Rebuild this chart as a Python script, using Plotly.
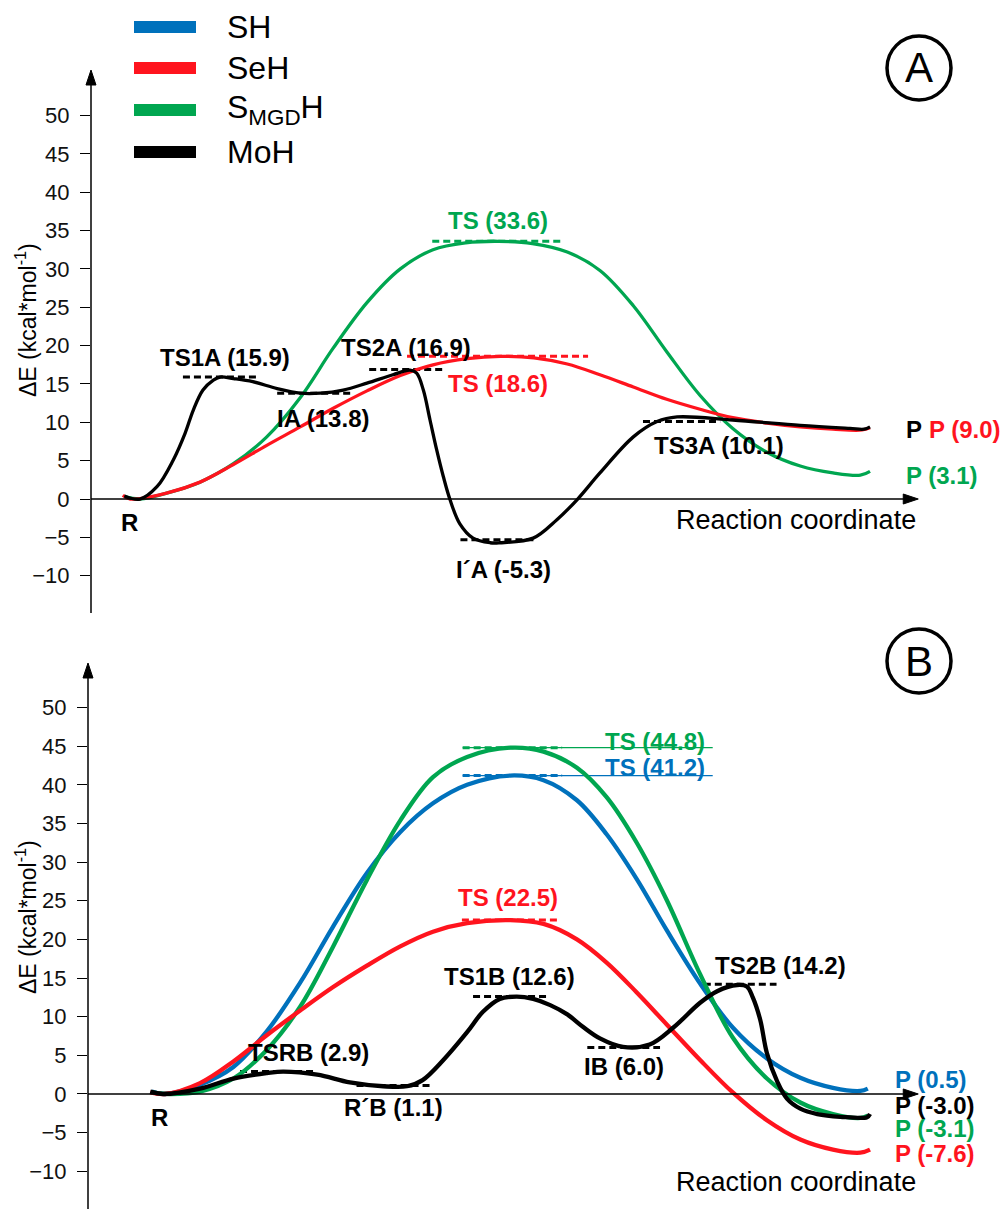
import plotly.graph_objects as go

W, H = 1003, 1209

# ---------------- data ----------------
series_keys = ["SH", "SeH", "SMGD", "MoH"]
series_names = ["SH", "SeH", "S<sub>MGD</sub>H", "MoH"]
series_colors = ["#0071BC", "#FF141E", "#00A650", "#000000"]

# Panel A curves: reaction coordinate / energy (kcal/mol)
a_smgd_x = [-0.04, 0.16, 0.57, 0.97, 1.42, 1.87, 2.32, 2.76, 3.22, 3.67, 4.11, 4.55, 4.99, 5.45, 5.92, 6.36, 6.81, 7.26, 7.71, 8.15, 8.61, 9.06, 9.50, 9.87, 10.0]
a_smgd_e = [0.3, 0.0, 0.9, 2.2, 4.6, 8.1, 13.2, 19.6, 25.6, 30.0, 32.5, 33.4, 33.6, 33.3, 32.2, 29.8, 25.2, 19.2, 13.5, 9.2, 6.1, 4.3, 3.4, 3.1, 3.6]

a_seh_x = [-0.07, 0.03, 0.53, 0.97, 1.42, 1.87, 2.32, 2.76, 3.22, 3.67, 4.11, 4.57, 5.02, 5.47, 5.92, 6.36, 6.81, 7.26, 7.71, 8.15, 8.61, 9.06, 9.50, 9.89, 10.0]
a_seh_e = [0.5, 0.0, 0.8, 2.2, 4.5, 7.0, 9.4, 11.8, 14.1, 16.1, 17.5, 18.3, 18.6, 18.4, 17.6, 16.2, 14.6, 13.0, 11.7, 10.6, 9.9, 9.4, 9.1, 9.0, 9.3]

a_moh_x = [-0.05, 0.16, 0.39, 0.61, 0.77, 0.88, 1.01, 1.15, 1.24, 1.42, 1.68, 2.01, 2.32, 2.59, 2.90, 3.22, 3.57, 3.80, 3.89, 3.98, 4.07, 4.16, 4.25, 4.34, 4.47, 4.65, 4.88, 5.01, 5.46, 5.78, 6.06, 6.36, 6.81, 7.13, 7.40, 8.15, 9.06, 9.73, 9.92, 10.0]
a_moh_e = [0.4, 0.0, 1.6, 5.1, 8.6, 11.6, 14.2, 15.5, 15.9, 15.7, 15.3, 14.4, 13.8, 13.8, 14.2, 15.1, 16.2, 16.8, 16.4, 14.2, 10.3, 6.4, 2.9, -0.1, -3.2, -5.1, -5.7, -5.7, -5.1, -2.7, 0.0, 3.4, 8.1, 10.1, 10.7, 10.3, 9.6, 9.2, 9.1, 9.4]

# Panel B curves
b_sh_x = [0.32, 0.50, 0.97, 1.42, 1.87, 2.32, 2.76, 3.22, 3.67, 4.11, 4.57, 5.15, 5.60, 6.05, 6.45, 6.85, 7.26, 7.71, 8.15, 8.61, 9.06, 9.50, 9.87, 9.97]
b_sh_e = [0.3, 0.0, 1.2, 3.5, 8.1, 14.4, 21.6, 28.6, 33.9, 37.6, 40.0, 41.2, 40.6, 38.0, 33.6, 27.9, 21.2, 14.3, 8.6, 4.6, 2.1, 0.8, 0.4, 0.7]

b_smgd_x = [0.32, 0.57, 0.97, 1.42, 1.87, 2.32, 2.76, 3.22, 3.67, 4.11, 4.57, 5.15, 5.60, 6.05, 6.45, 6.85, 7.26, 7.71, 8.15, 8.61, 9.06, 9.50, 9.87, 9.97]
b_smgd_e = [0.2, 0.0, 0.3, 2.0, 5.7, 11.3, 19.0, 27.7, 35.4, 41.0, 43.6, 44.8, 44.3, 42.2, 38.4, 32.6, 25.1, 15.5, 7.3, 2.0, -1.1, -2.6, -3.1, -2.8]

b_seh_x = [0.30, 0.50, 0.97, 1.42, 1.87, 2.32, 2.76, 3.22, 3.67, 4.11, 4.57, 5.15, 5.60, 6.05, 6.45, 6.85, 7.26, 7.71, 8.15, 8.61, 9.06, 9.50, 9.87, 10.0]
b_seh_e = [0.2, 0.0, 1.4, 4.2, 7.6, 10.8, 13.8, 16.6, 19.1, 21.0, 22.1, 22.5, 22.0, 20.0, 17.0, 13.2, 9.0, 4.4, 0.2, -3.4, -5.9, -7.2, -7.6, -7.2]

b_moh_x = [0.30, 0.47, 0.97, 1.42, 1.87, 2.09, 2.55, 2.99, 3.44, 3.76, 3.97, 4.25, 4.57, 4.78, 5.01, 5.24, 5.46, 5.69, 5.92, 6.13, 6.36, 6.67, 7.03, 7.35, 7.71, 7.94, 8.21, 8.34, 8.42, 8.52, 8.61, 8.75, 8.88, 9.06, 9.29, 9.60, 9.96, 10.0]
b_moh_e = [0.3, 0.0, 0.7, 2.0, 2.7, 2.9, 2.5, 1.5, 1.0, 1.0, 1.8, 4.4, 8.0, 10.6, 12.3, 12.6, 12.3, 11.5, 10.3, 8.7, 7.2, 6.1, 6.4, 8.6, 11.8, 13.3, 14.1, 13.9, 12.5, 9.6, 5.3, 1.6, -0.6, -1.9, -2.6, -2.95, -3.0, -2.6]

# Stationary points (name, reaction coordinate, energy)
a_moh_names = ["R", "TS1A", "IA", "TS2A", "I´A", "TS3A", "P"]
a_moh_sx = [0.09, 1.24, 2.51, 3.75, 4.98, 7.46, 10.0]
a_moh_se = [0.0, 15.9, 13.8, 16.9, -5.3, 10.1, 9.0]
a_seh_names = ["TS", "P"]
a_seh_sx = [4.98, 10.0]
a_seh_se = [18.6, 9.0]
a_smgd_names = ["TS", "P"]
a_smgd_sx = [4.98, 10.0]
a_smgd_se = [33.6, 3.1]

b_moh_names = ["R", "TSRB", "R´B", "TS1B", "IB", "TS2B", "P"]
b_moh_sx = [0.47, 2.01, 3.58, 5.15, 6.68, 8.25, 9.97]
b_moh_se = [0.0, 2.9, 1.1, 12.6, 6.0, 14.2, -3.0]
b_sh_names = ["TS", "P"]
b_sh_sx = [5.18, 9.97]
b_sh_se = [41.2, 0.5]
b_seh_names = ["TS", "P"]
b_seh_sx = [5.16, 9.97]
b_seh_se = [22.5, -7.6]
b_smgd_names = ["TS", "P"]
b_smgd_sx = [5.18, 9.97]
b_smgd_se = [44.8, -3.1]

y_ticks = [-10, -5, 0, 5, 10, 15, 20, 25, 30, 35, 40, 45, 50]

# ---------------- styles ----------------
COL = dict(zip(series_keys, series_colors))
FONT = "Liberation Sans, Arial, Helvetica, sans-serif"
LBL = 24

# label style: (dx, dy, anchor, marker half width, text mode, underline end)
label_style = {
    ("A", "MoH", "R"): (-5, -23, "center", None, "name", None),
    ("A", "MoH", "TS1A"): (5, 20, "center", 0.5, "full", None),
    ("A", "MoH", "IA"): (9, -25, "center", 0.5, "full", None),
    ("A", "MoH", "TS2A"): (0, 22, "center", 0.5, "full", None),
    ("A", "MoH", "I´A"): (6, -30, "center", 0.5, "full", None),
    ("A", "MoH", "TS3A"): (37, -24, "center", 0.52, "full", None),
    ("A", "MoH", "P"): (34, 0, "left", None, "name", None),
    ("A", "SeH", "TS"): (0, -27, "center", 1.22, "full", None),
    ("A", "SeH", "P"): (57, 0, "left", None, "full", None),
    ("A", "SMGD", "TS"): (0, 21, "center", 0.88, "full", None),
    ("A", "SMGD", "P"): (34, 0, "left", None, "full", None),
    ("B", "MoH", "R"): (-3, -24, "center", None, "name", None),
    ("B", "MoH", "TSRB"): (31, 19, "center", 0.5, "full", None),
    ("B", "MoH", "R´B"): (0, -22, "center", 0.5, "full", None),
    ("B", "MoH", "TS1B"): (-1, 20, "center", 0.5, "full", None),
    ("B", "MoH", "IB"): (0, -19, "center", 0.49, "full", None),
    ("B", "MoH", "TS2B"): (40, 19, "center", 0.49, "full", None),
    ("B", "MoH", "P"): (25, 12, "left", None, "full", None),
    ("B", "SH", "TS"): (195, 8, "right", 0.67, "full", 7.88),
    ("B", "SH", "P"): (25, 11, "left", None, "full", None),
    ("B", "SeH", "TS"): (-3, 23, "center", 0.66, "full", None),
    ("B", "SeH", "P"): (25, -1, "left", None, "full", None),
    ("B", "SMGD", "TS"): (195, 6, "right", 0.67, "full", 7.88),
    ("B", "SMGD", "P"): (25, -11, "left", None, "full", None),
}

# axis geometry
xr_a = [-0.499, 11.792]
xr_b = [-0.539, 11.792]
yr_a = [-14.86, 55.93]
yr_b = [-14.88, 55.76]
xd_a = [91 / W, 1]
xd_b = [88 / W, 1]
yd_a = [1 - 613 / H, 1 - 70 / H]
yd_b = [0, 1 - 663 / H]
x_tip = 10.65

fig = go.Figure()

panels = {
    "A": dict(xa="x", ya="y", lw=3.3,
              curves=[("SMGD", a_smgd_x, a_smgd_e), ("SeH", a_seh_x, a_seh_e), ("MoH", a_moh_x, a_moh_e)],
              points=[("SMGD", a_smgd_names, a_smgd_sx, a_smgd_se), ("SeH", a_seh_names, a_seh_sx, a_seh_se),
                      ("MoH", a_moh_names, a_moh_sx, a_moh_se)]),
    "B": dict(xa="x2", ya="y2", lw=4.3,
              curves=[("SH", b_sh_x, b_sh_e), ("SMGD", b_smgd_x, b_smgd_e), ("SeH", b_seh_x, b_seh_e), ("MoH", b_moh_x, b_moh_e)],
              points=[("SH", b_sh_names, b_sh_sx, b_sh_se), ("SMGD", b_smgd_names, b_smgd_sx, b_smgd_se),
                      ("SeH", b_seh_names, b_seh_sx, b_seh_se), ("MoH", b_moh_names, b_moh_sx, b_moh_se)]),
}

annotations = []
shapes = []
for pk, p in panels.items():
    for key, names, sx, se in p["points"]:
        for n, x, e in zip(names, sx, se):
            dx, dy, anchor, half, mode, uend = label_style[(pk, key, n)]
            if half is not None:
                fig.add_trace(go.Scatter(x=[x - half, x + half], y=[e, e], mode="lines",
                                         line=dict(color=COL[key], width=3, dash="7px,4px"),
                                         xaxis=p["xa"], yaxis=p["ya"], showlegend=False, hoverinfo="skip"))
            if uend is not None:
                fig.add_trace(go.Scatter(x=[x - half, uend], y=[e, e], mode="lines",
                                         line=dict(color=COL[key], width=1.3),
                                         xaxis=p["xa"], yaxis=p["ya"], showlegend=False, hoverinfo="skip"))
            text = n if mode == "name" else f"{n} ({e:.1f})"
            annotations.append(dict(x=x, y=e, xref=p["xa"], yref=p["ya"], text=f"<b>{text}</b>",
                                    showarrow=False, xanchor=anchor, yanchor="middle",
                                    xshift=dx, yshift=dy,
                                    font=dict(family=FONT, size=LBL, color=COL[key])))
    for key, xs, es in p["curves"]:
        fig.add_trace(go.Scatter(x=xs, y=es, mode="lines", name=key,
                                 line=dict(color=COL[key], width=p["lw"], shape="spline", smoothing=1.0),
                                 xaxis=p["xa"], yaxis=p["ya"], showlegend=False))


def to_px(v, rng, dom, size, flip=False):
    f = dom[0] + (v - rng[0]) / (rng[1] - rng[0]) * (dom[1] - dom[0])
    return (1 - f) * size if flip else f * size


def arrow_path(tx, ty, direction):
    # triangle in paper coords, tip at pixel (tx, ty)
    L, Wd = 15, 5
    if direction == "up":
        pts = [(tx, ty), (tx - Wd, ty + L), (tx + Wd, ty + L)]
    else:
        pts = [(tx, ty), (tx - L, ty - Wd), (tx - L, ty + Wd)]
    d = "M " + " L ".join(f"{px / W:.5f},{1 - py / H:.5f}" for px, py in pts) + " Z"
    return dict(type="path", xref="paper", yref="paper", path=d,
                fillcolor="black", line=dict(color="black", width=1))


for xa, ya, xr, yr, xd, yd, lab_shift in [("x", "y", xr_a, yr_a, xd_a, yd_a, -21),
                                           ("x2", "y2", xr_b, yr_b, xd_b, yd_b, -88)]:
    ax_px = to_px(xr[0], xr, xd, W)
    top_py = to_px(yr[1], yr, yd, H, flip=True)
    bot_py = to_px(yr[0], yr, yd, H, flip=True)
    zero_py = to_px(0, yr, yd, H, flip=True)
    tip_px = to_px(x_tip, xr, xd, W)
    shapes.append(dict(type="line", xref="paper", yref="paper", x0=ax_px / W, x1=ax_px / W,
                       y0=1 - bot_py / H, y1=1 - (top_py + 8) / H, line=dict(color="black", width=1.5)))
    shapes.append(arrow_path(ax_px, top_py, "up"))
    shapes.append(dict(type="line", xref="paper", yref="paper", x0=ax_px / W, x1=(tip_px - 8) / W,
                       y0=1 - zero_py / H, y1=1 - zero_py / H, line=dict(color="black", width=1.5)))
    shapes.append(arrow_path(tip_px, zero_py, "right"))
    annotations.append(dict(x=x_tip, y=0, xref=xa, yref=ya, text="Reaction coordinate",
                            showarrow=False, xanchor="right", yanchor="middle", yshift=lab_shift,
                            font=dict(family=FONT, size=27, color="black")))

# y-axis titles
for yc in [320, 917]:
    annotations.append(dict(x=26 / W, y=1 - yc / H, xref="paper", yref="paper",
                            text="ΔE (kcal*mol<sup>-1</sup>)", textangle=-90, showarrow=False,
                            xanchor="center", yanchor="middle",
                            font=dict(family=FONT, size=23, color="black")))

# legend
leg_y = [27, 68, 110, 152]
for name, col, py in zip(series_names, series_colors, leg_y):
    shapes.append(dict(type="line", xref="paper", yref="paper", x0=134 / W, x1=196 / W,
                       y0=1 - py / H, y1=1 - py / H, line=dict(color=col, width=12)))
    annotations.append(dict(x=225 / W, y=1 - py / H, xref="paper", yref="paper", text=name,
                            showarrow=False, xanchor="left", yanchor="middle",
                            font=dict(family=FONT, size=32, color="black")))

# panel circles
for letter, cx, cy in [("A", 919, 68), ("B", 919, 661)]:
    r = 32
    shapes.append(dict(type="circle", xref="paper", yref="paper",
                       x0=(cx - r) / W, x1=(cx + r) / W, y0=1 - (cy + r) / H, y1=1 - (cy - r) / H,
                       line=dict(color="black", width=3.5)))
    annotations.append(dict(x=cx / W, y=1 - cy / H, xref="paper", yref="paper", text=letter,
                            showarrow=False, xanchor="center", yanchor="middle",
                            font=dict(family=FONT, size=42, color="black")))

yaxis_common = dict(tickvals=y_ticks, ticks="outside", ticklen=10, tickwidth=1.4, tickcolor="black",
                    showgrid=False, zeroline=False, showline=False,
                    tickfont=dict(family=FONT, size=22, color="#111"), ticklabelstandoff=6)
xaxis_common = dict(showgrid=False, zeroline=False, showline=False, showticklabels=False, ticks="")

fig.update_layout(
    width=W, height=H, margin=dict(l=0, r=0, t=0, b=0),
    paper_bgcolor="white", plot_bgcolor="white", showlegend=False,
    xaxis=dict(domain=xd_a, range=xr_a, anchor="y", **xaxis_common),
    yaxis=dict(domain=yd_a, range=yr_a, anchor="x", **yaxis_common),
    xaxis2=dict(domain=xd_b, range=xr_b, anchor="y2", **xaxis_common),
    yaxis2=dict(domain=yd_b, range=yr_b, anchor="x2", **yaxis_common),
    annotations=annotations, shapes=shapes,
)

fig.write_html("out.html")
